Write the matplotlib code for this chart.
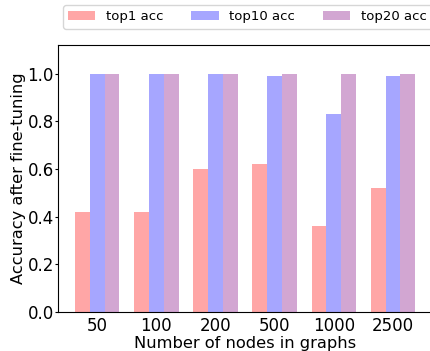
import matplotlib
matplotlib.use("Agg")
import matplotlib.pyplot as plt
import numpy as np

nodes = ["50", "100", "200", "500", "1000", "2500"]
top1 = [0.42, 0.42, 0.60, 0.62, 0.36, 0.52]
top10 = [1.00, 1.00, 1.00, 0.99, 0.83, 0.99]
top20 = [1.00, 1.00, 1.00, 1.00, 1.00, 1.00]

x = np.arange(len(nodes))
w = 0.25

fig = plt.figure(figsize=(4.31, 3.51), dpi=100)
ax = fig.add_axes([0.1346, 0.111, 0.868, 0.761])

ax.bar(x - w, top1, w, color="red", alpha=0.35, label="top1 acc")
ax.bar(x, top10, w, color="blue", alpha=0.35, label="top10 acc")
ax.bar(x + w, top20, w, color="purple", alpha=0.35, label="top20 acc")

ax.set_xticks(x)
ax.set_xticklabels(nodes)
ax.tick_params(axis="x", labelsize=12, length=0, pad=3.4)
ax.tick_params(axis="y", labelsize=12, length=2.5, pad=0.5)
ax.set_xlabel("Number of nodes in graphs", fontsize=11.7, labelpad=1)
ax.set_ylabel("Accuracy after fine-tuning", fontsize=11.7, labelpad=1)
ax.set_ylim(0, 1.12)
ax.set_yticks([0, 0.2, 0.4, 0.6, 0.8, 1.0])

fig.legend(loc="upper left", bbox_to_anchor=(63 / 431, 1 - 5 / 351), ncol=3, fontsize=9.5,
           handlelength=2.05, handletextpad=0.83, columnspacing=2.1, borderaxespad=0)

fig.savefig("out.png", dpi=100)
